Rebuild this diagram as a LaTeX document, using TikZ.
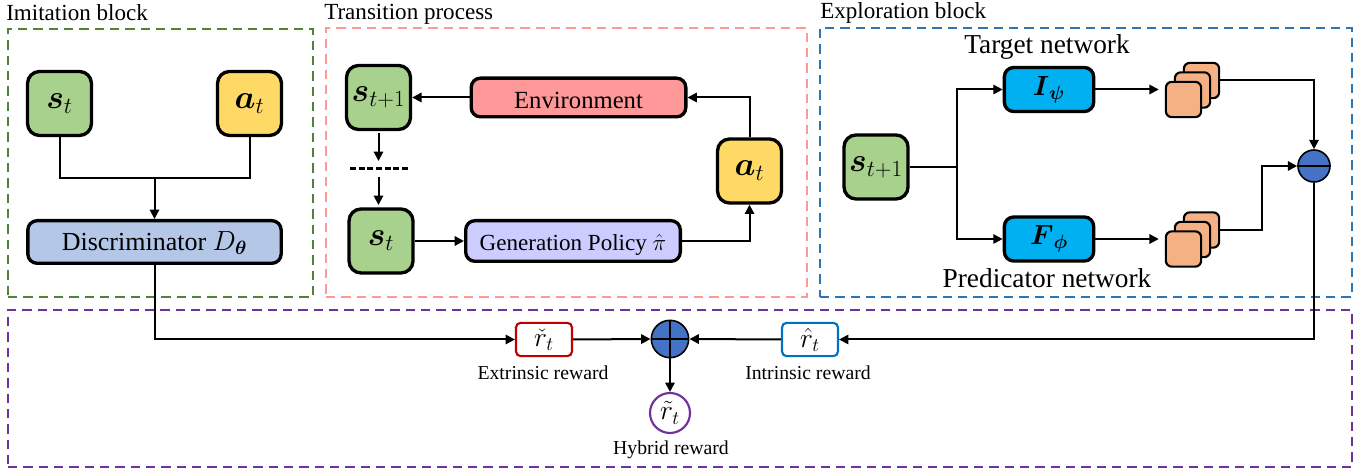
\documentclass[tikz,border=0pt]{standalone}
\usepackage{amsmath}
\usepackage{fontspec}
\setmainfont{Liberation Serif}
\usetikzlibrary{arrows.meta}

\definecolor{statecol}{HTML}{A9D18E}
\definecolor{actioncol}{HTML}{FFD966}
\definecolor{disccol}{HTML}{B4C7E7}
\definecolor{envcol}{HTML}{FF9999}
\definecolor{gencol}{HTML}{CCCCFF}
\definecolor{netcol}{HTML}{00B0F0}
\definecolor{featcol}{HTML}{F4B183}
\definecolor{ballcol}{HTML}{4472C4}
\definecolor{imitcol}{HTML}{548235}
\definecolor{explcol}{HTML}{2E75B6}
\definecolor{hybcol}{HTML}{7030A0}
\definecolor{extcol}{HTML}{C00000}
\definecolor{intcol}{HTML}{0070C0}

\tikzset{
    frame/.style={draw=#1, line width=1.8pt, dash pattern=on 7pt off 4.5pt, inner sep=0pt},
    blocktitle/.style={anchor=west, inner sep=0pt, font=\fontsize{17.3}{19}\selectfont},
    netlabel/.style={inner sep=0pt, font=\fontsize{20.5}{22}\selectfont},
    smalllabel/.style={inner sep=0pt, font=\fontsize{14.8}{16}\selectfont},
    square/.style={draw, fill=#1, line width=2.5pt, rounded corners=9pt, minimum width=48pt, minimum height=48pt, inner sep=0pt, font=\fontsize{23}{25}\selectfont},
    wide/.style={draw, fill=#1, line width=2.5pt, rounded corners=7pt, inner sep=0pt, font=\fontsize{18.5}{20}\selectfont},
    feat/.style={draw, fill=featcol, line width=1.6pt, rounded corners=4.5pt, minimum width=26.5pt, minimum height=26.5pt, inner sep=0pt},
    ball/.style={circle, draw, fill=ballcol, line width=1.2pt, inner sep=0pt},
    reward/.style={draw=#1, fill=white, line width=1.6pt, rounded corners=3.5pt, minimum width=42pt, minimum height=25pt, inner sep=0pt, font=\fontsize{20}{22}\selectfont},
    arr/.style={-{Triangle[length=7pt, width=7pt]}, line width=1.5pt},
    lne/.style={line width=1.5pt}
}

\begin{document}
\begin{tikzpicture}[x=0.75pt, y=-0.75pt]
    \useasboundingbox (0,0) rectangle (1371,473);

    % frames
    \node[frame=imitcol, minimum width=228.75pt, minimum height=201pt] (imitframe) at (160.5,163) {};
    \node[frame=envcol, minimum width=360.75pt, minimum height=201.75pt] (transframe) at (566.5,162.5) {};
    \node[frame=explcol, minimum width=399pt, minimum height=201.75pt] (explframe) at (1086,162.5) {};
    \node[frame=hybcol, minimum width=1008pt, minimum height=117.75pt] (rewardframe) at (680,388.5) {};

    \node[blocktitle] (imittitle) at (6,13) {Imitation block};
    \node[blocktitle] (transtitle) at (324,14) {Transition process};
    \node[blocktitle] (expltitle) at (820,13) {Exploration block};

    % imitation block
    \node[square=statecol] (imitstate) at (59.5,103.5) {$\boldsymbol{s}_t$};
    \node[square=actioncol] (imitaction) at (249.5,103.5) {$\boldsymbol{a}_t$};
    \node[wide=disccol, minimum width=190pt, minimum height=32pt, text height=13pt, text depth=0pt, font=\fontsize{19.5}{21}\selectfont] (disc) at (154.5,242) {Discriminator $D_{\boldsymbol{\theta}}$};
    \coordinate (imitjoin) at (154.5,178);
    \draw[lne] (imitstate.south) |- (imitjoin);
    \draw[lne] (imitaction.south) |- (imitjoin);
    \draw[arr] (imitjoin) -- (disc.north);

    % transition process
    \node[square=statecol] (transnext) at (378.5,97.5) {$\boldsymbol{s}_{t+1}$};
    \node[square=statecol] (transstate) at (381,241) {$\boldsymbol{s}_t$};
    \node[square=actioncol] (transaction) at (749.5,171) {$\boldsymbol{a}_t$};
    \node[wide=envcol, minimum width=161pt, minimum height=29pt, text height=16.5pt, text depth=0pt] (env) at (578.5,97.5) {Environment};
    \node[wide=gencol, minimum width=161pt, minimum height=30.5pt, text height=14pt, text depth=0pt, font=\fontsize{17.3}{19}\selectfont] (gen) at (573,241) {Generation Policy $\hat{\pi}$};
    \coordinate (gapleft) at (350,168.5);
    \coordinate (gapright) at (409,168.5);
    \coordinate (gapabove) at (378.5,161);
    \coordinate (gapbelow) at (378.5,177);
    \coordinate (gapend) at (378.5,205);
    \coordinate (nextfoot) at (378.5,133);
    \draw[arr] (env.west) -- (transnext.east);
    \draw[arr] (nextfoot) -- (gapabove);
    \draw[line width=1.7pt, dash pattern=on 4.5pt off 2pt] (gapleft) -- (gapright);
    \draw[arr] (gapbelow) -- (gapend);
    \draw[arr] (transstate.east) -- (gen.west);
    \draw[arr] (gen.east) -| (transaction.south);
    \draw[arr] (transaction.north) |- (env.east);

    % exploration block
    \node[square=statecol] (explnext) at (876,167) {$\boldsymbol{s}_{t+1}$};
    \node[wide=netcol, minimum width=67pt, minimum height=33pt, font=\fontsize{22}{24}\selectfont] (target) at (1049,89.5) {$\boldsymbol{I}_{\boldsymbol{\psi}}$};
    \node[wide=netcol, minimum width=67pt, minimum height=33pt, font=\fontsize{22}{24}\selectfont] (pred) at (1049,239) {$\boldsymbol{F}_{\boldsymbol{\phi}}$};
    \node[netlabel] (targetlabel) at (1047,47) {Target network};
    \node[netlabel] (predlabel) at (1047,278) {Predicator network};

    \node[feat] (tarback) at (1201.5,80.5) {};
    \node[feat] (tarmid) at (1192.5,90) {};
    \node[feat] (tarfront) at (1183.5,99.5) {};
    \node[feat] (predback) at (1201.5,230) {};
    \node[feat] (predmid) at (1192.5,239.5) {};
    \node[feat] (predfront) at (1183.5,249) {};

    \node[ball, minimum size=24pt] (minus) at (1314,166) {};
    \draw[line width=1.2pt] (minus.west) -- (minus.east);

    \coordinate (explbranch) at (957,167);
    \coordinate (predbend) at (1262,200);
    \draw[lne] (explnext.east) -- (explbranch);
    \draw[arr] (explbranch) |- (target.west);
    \draw[arr] (explbranch) |- (pred.west);
    \draw[arr, shorten >=4.5pt] (target.east) -- (target.east -| tarfront.west);
    \draw[arr, shorten >=4.5pt] (pred.east) -- (pred.east -| predfront.west);
    \draw[arr] (tarback.east) -| (minus.north);
    \draw[arr] (predback.east) -| (predbend) |- (minus.west);

    % rewards
    \node[reward=extcol] (rext) at (544,339.5) {$\check{r}_t$};
    \node[reward=intcol] (rint) at (810,339.5) {$\hat{r}_t$};
    \node[ball, minimum size=28pt] (plus) at (670,339) {};
    \draw[line width=1.2pt] (plus.west) -- (plus.east);
    \draw[line width=1.2pt] (plus.north) -- (plus.south);
    \node[circle, draw=hybcol, fill=white, line width=1.6pt, minimum size=30pt, inner sep=0pt, font=\fontsize{20}{22}\selectfont] (rhyb) at (670,413) {$\tilde{r}_t$};

    \node[smalllabel] (extlabel) at (543,373) {Extrinsic reward};
    \node[smalllabel] (intlabel) at (808,373) {Intrinsic reward};
    \node[smalllabel] (hyblabel) at (671,450) {Hybrid reward};

    \draw[arr] (disc.south) |- (rext.west);
    \draw[arr] (rext.east) -- (plus.west);
    \draw[arr] (rint.west) -- (plus.east);
    \draw[arr] (minus.south) |- (rint.east);
    \draw[arr] (plus.south) -- (rhyb.north);
\end{tikzpicture}
\end{document}
